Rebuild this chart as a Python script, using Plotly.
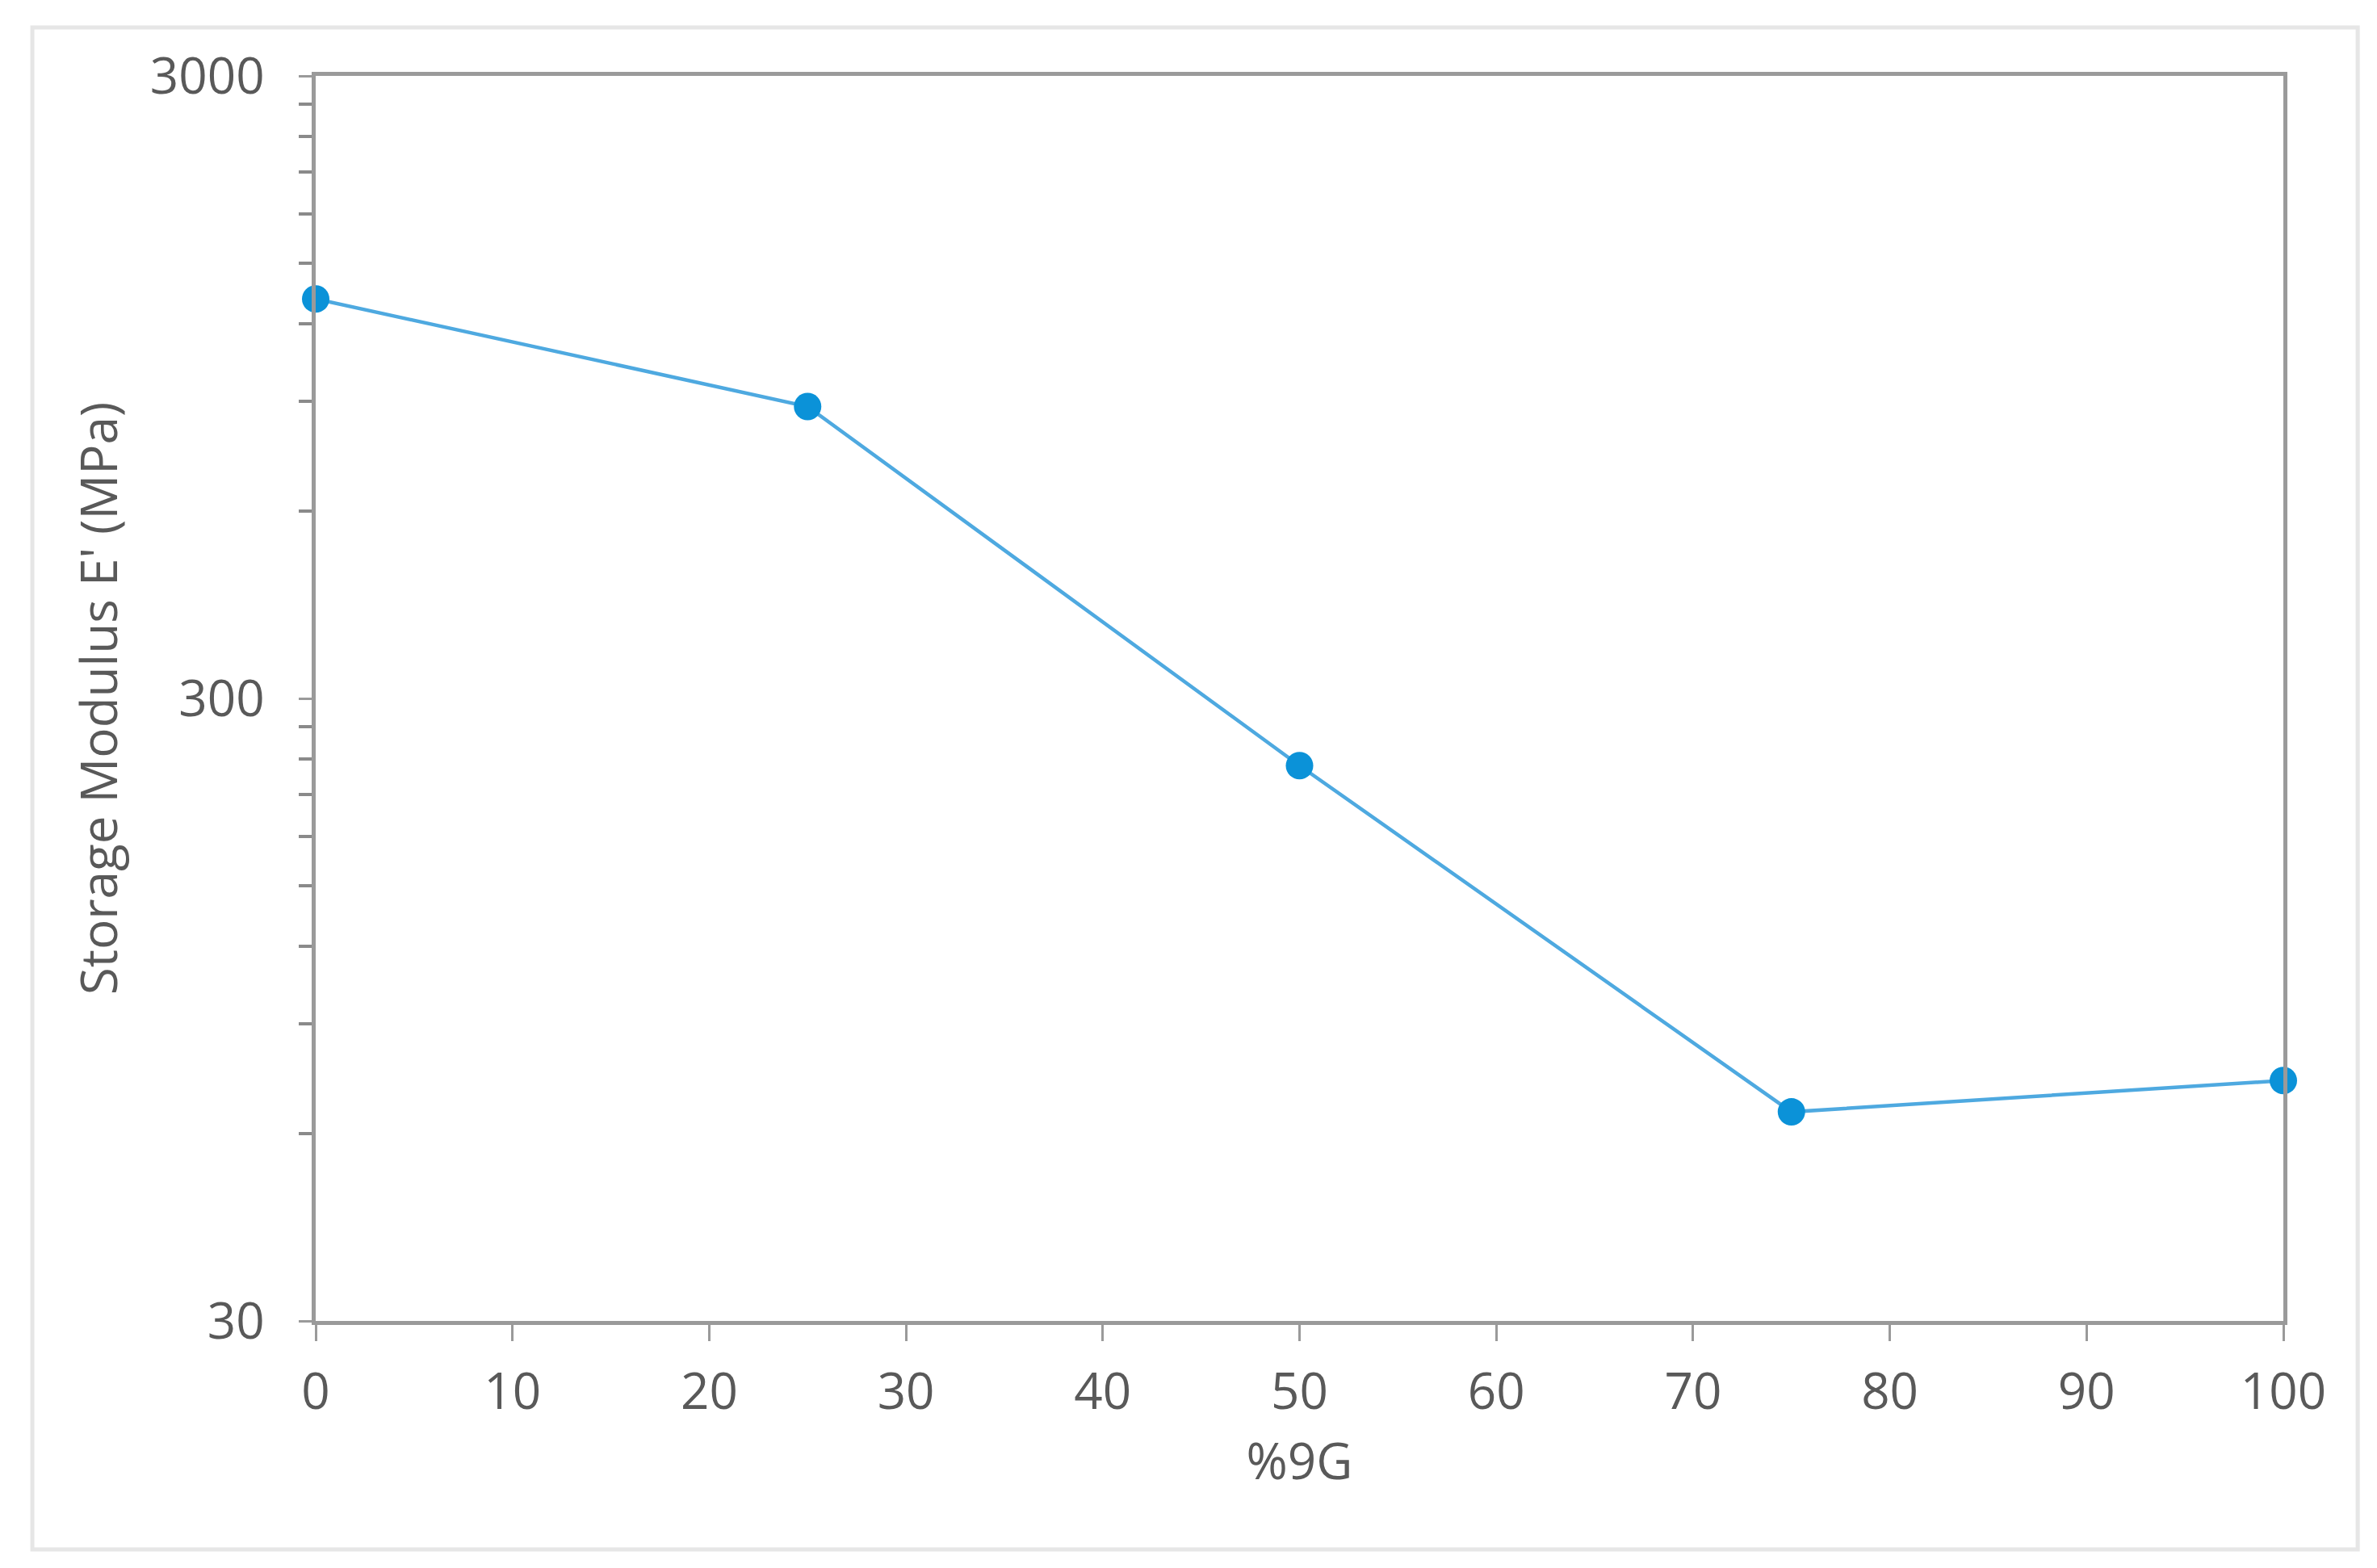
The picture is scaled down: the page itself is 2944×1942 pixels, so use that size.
import plotly.graph_objects as go
import numpy as np

# 데이터
pct_9g = [0, 25, 50, 75, 100]
storage_modulus = [1315, 883, 234, 65, 73]

y_major = [30, 300, 3000]
y_minor = [60, 90, 120, 150, 180, 210, 240, 270,
           600, 900, 1200, 1500, 1800, 2100, 2400, 2700]
x_ticks = [0, 10, 20, 30, 40, 50, 60, 70, 80, 90, 100]

axis_grey = '#9a9a9a'
text_grey = '#595959'
font_name = 'Open Sans'

fig = go.Figure()

fig.add_trace(go.Scatter(
    x=pct_9g,
    y=storage_modulus,
    mode='lines+markers',
    line=dict(color='#4ea9e0', width=4.5),
    marker=dict(size=34, color='#0b92d8'),
    cliponaxis=False,
    showlegend=False
))

# 바깥 테두리
fig.add_shape(
    type='rect', xref='paper', yref='paper',
    x0=-0.144, x1=1.0378, y0=-0.1835, y1=1.0389,
    line=dict(color='#e6e6e6', width=5),
    layer='below'
)

fig.update_layout(
    width=2944,
    height=1942,
    paper_bgcolor='white',
    plot_bgcolor='white',
    margin=dict(l=383, r=124, t=86, b=314),
    font=dict(family=font_name, size=62, color=text_grey),
    xaxis=dict(
        range=[0, 100],
        tickvals=x_ticks,
        ticks='outside',
        ticklen=20,
        tickwidth=3,
        tickcolor=axis_grey,
        showline=True,
        linecolor=axis_grey,
        linewidth=5,
        mirror=True,
        showgrid=False,
        zeroline=False,
        ticklabelstandoff=10,
        title=dict(text='%9G', standoff=28,
                   font=dict(size=62, color=text_grey)),
        automargin=False
    ),
    yaxis=dict(
        type='log',
        range=[np.log10(30), np.log10(3000)],
        tickvals=y_major,
        ticktext=[str(v) for v in y_major],
        ticks='outside',
        ticklen=16,
        tickwidth=3,
        tickcolor=axis_grey,
        minor=dict(tickvals=y_minor, ticks='outside', ticklen=16,
                   tickwidth=4, tickcolor='#8a8a8a', showgrid=False),
        showline=True,
        linecolor=axis_grey,
        linewidth=5,
        mirror=True,
        showgrid=False,
        zeroline=False,
        ticklabelstandoff=30,
        title=dict(text="Storage Modulus E' (MPa)", standoff=22,
                   font=dict(size=62, color=text_grey)),
        automargin=False
    )
)

fig.write_html("out.html")
